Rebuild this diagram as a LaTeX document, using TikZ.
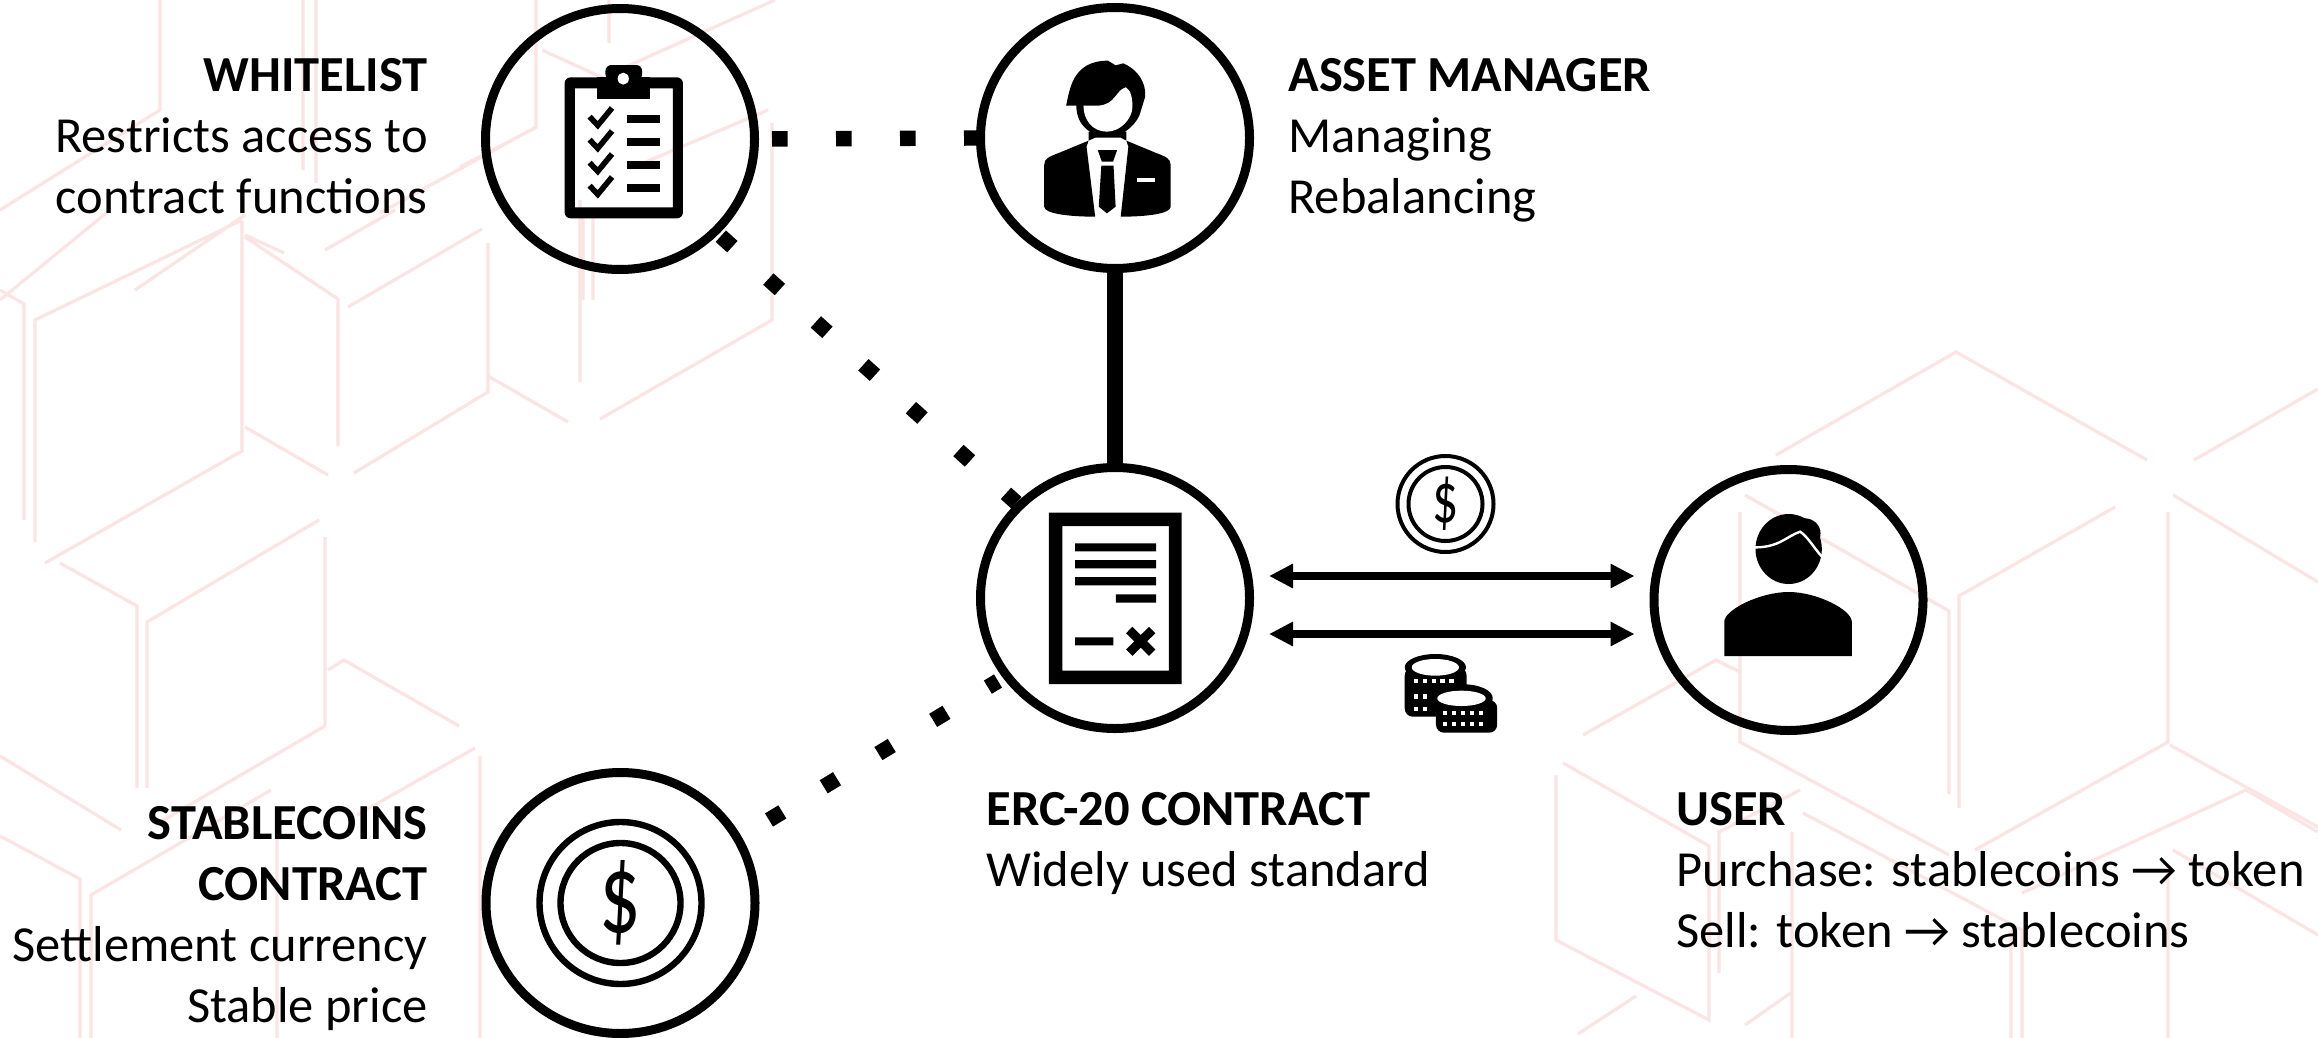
\documentclass[tikz,border=0pt]{standalone}
\usepackage{fontspec}
\setmainfont{Carlito}
\usetikzlibrary{shapes.geometric,arrows.meta,calc}
\definecolor{hexpink}{HTML}{FBE4E4}
\tikzset{
  hub/.style={ellipse,draw=black,line width=4.5pt,minimum width=134.5pt,minimum height=130.5pt,inner sep=0pt},
  dotlink/.style={line width=7.7pt,dash pattern=on 7.8pt off 24.2pt},
  solidlink/.style={line width=8pt},
  twoway/.style={line width=4pt,{Triangle[length=12pt,width=11.5pt]}-{Triangle[length=12pt,width=11.5pt]}},
  hexline/.style={hexpink,line width=1.6pt},
  lab/.style={inner sep=0pt,font=\fontsize{25.25}{30.5}\selectfont},
  labr/.style={lab,align=right,anchor=north east},
  labl/.style={lab,align=left,anchor=north west},
  viewA/.style={shift={(460,0)},x=0.2551pt,y=-0.16667pt},
  viewB/.style={shift={(950,440)},x=0.31888pt,y=-0.16667pt},
}
\begin{document}
\begin{tikzpicture}[x=0.5pt,y=-0.5pt]
\fill[white] (0,0) rectangle (2318,1038);
\useasboundingbox (0,0) rectangle (2318,1038);
\begin{scope}
\clip (0,0) rectangle (2318,1038);
% background hexagons, left
\draw[hexline]
 (35,542)--(35,320)--(242,220) (242,221)--(242,451)--(45,563)
 (245,235)--(284,253) (245,427)--(328,475) (354,473)--(488,392)--(488,243)
 (348,307)--(482,229) (338,446)--(338,299)--(245,237) (325,250)--(395,210)
 (488,376)--(568,422) (600,419)--(772,320)--(772,123) (580,200)--(580,382)
 (0,290)--(24,304)--(24,520) (60,563)--(137,606)--(137,788)
 (147,788)--(147,622)--(319,520) (325,537)--(325,726)--(155,825)
 (0,756)--(121,830) (328,670)--(344,660)--(459,726) (475,748)--(357,815)
 (480,756)--(480,1038) (0,836)--(80,879)--(80,1038) (91,1038)--(91,895)--(271,790)
 (277,815)--(277,1038)
 (160,0)--(160,110)--(0,210) (303,0)--(303,170) (316,0)--(316,183)
 (536,0)--(536,127)--(380,213) (537,127)--(460,167) (775,0)--(612,73)
 (609,0)--(609,43) (542,50)--(614,83) (768,110)--(634,167) (583,217)--(583,300) (593,217)--(593,300)
 (245,215)--(135,290) (0,300)--(110,210);
% background hexagons, right
\draw[hexline]
 (1776,455)--(1956,352)--(2147,460) (2194,460)--(2318,389)
 (1745,495)--(1949,611)--(1949,794) (1959,808)--(1959,596)--(2115,507)
 (2173,495)--(2318,582) (2168,512)--(2168,742)--(1975,850) (2170,745)--(2318,827)
 (1740,512)--(1740,742)--(1949,855) (1803,813)--(2022,930)--(2022,1038) (2011,930)--(2011,1038)
 (2173,850)--(2318,935) (2168,865)--(2168,1038) (1563,763)--(1709,846)--(1709,1020)--(1556,940)--(1556,775)
 (1583,735)--(1716,660)--(1740,672) (1719,973)--(1719,832)--(1800,790) (1792,832)--(1792,1038)
 (2022,893)--(2246,790)--(2318,832) (1578,1034)--(1636,996) (1745,1025)--(1792,992);
\end{scope}

% hubs
\node[hub] (wl) at (620,139) {};
\node[hub] (am) at (1115,138) {};
\node[hub] (ct) at (1115,598) {};
\node[hub] (us) at (1788.5,600) {};
\node[hub] (sc) at (620.5,903) {};

% connectors
\draw[dotlink,shorten <=6.5pt] (wl.east) -- (am.west);
\draw[dotlink,shorten <=1.5pt] (wl.-44) -- (ct.136);
\draw[dotlink] ($(sc.center)+(148.5,-83)$) -- ($(ct.center)+(-117,83)$);
\draw[solidlink] (am.south) -- (ct.north);
\draw[twoway] ($(ct.center)+(154,-22)$) -- ($(us.center)+(-154,-24)$);
\draw[twoway] ($(ct.center)+(154,36)$) -- ($(us.center)+(-154,34)$);

% clipboard
\begin{scope}[viewA]
 \fill[even odd rule,rounded corners=3pt] (205,232) rectangle (437,655) [sharp corners] (225,265) rectangle (417,622);
 \fill[rounded corners=3pt] (285,240) -- (285,195) -- (357,195) -- (357,240) -- cycle;
 \fill (268,232) rectangle (373,298);
 \fill[white] (320,236) ellipse [x radius=11,y radius=18];
 \foreach \d in {0,69,138,207}{
  \draw[line width=2.8pt] (254,\d+350) -- (270,\d+376) -- (298,\d+324);
  \fill (328,\d+345) rectangle (392,\d+369);
 }
 % manager
 \fill (1145,495) .. controls (1145,475) and (1155,470) .. (1175,458) -- (1232,422) -- (1228,440) -- (1245,650) .. controls (1190,650) and (1145,640) .. (1145,620) -- cycle;
 \fill (1393,495) .. controls (1393,475) and (1383,470) .. (1363,458) -- (1306,422) -- (1310,440) -- (1295,650) .. controls (1350,650) and (1393,640) .. (1393,620) -- cycle;
 \fill (1232,395) -- (1232,422) -- (1245,413) -- (1295,413) -- (1306,422) -- (1306,395) -- cycle;
 \fill (1250,450) -- (1288,450) -- (1280,485) -- (1258,485) -- cycle;
 \fill (1257,497) -- (1281,497) -- (1285,620) -- (1268,640) -- (1252,620) -- cycle;
 \fill[white] (1327,533) rectangle (1362,545);
 \fill (1188,317) .. controls (1195,270) and (1200,182) .. (1270,182) -- (1285,196) -- (1300,190) .. controls (1330,210) and (1345,250) .. (1343,290) -- (1332,345) .. controls (1320,385) and (1295,410) .. (1270,410) .. controls (1240,410) and (1208,380) .. (1208,317) -- cycle;
 \fill[white] (1222,317) -- (1250,317) .. controls (1285,315) and (1285,270) .. (1305,262) .. controls (1315,270) and (1318,295) .. (1318,320) .. controls (1318,355) and (1295,395) .. (1268,395) .. controls (1240,395) and (1222,360) .. (1222,317) -- cycle;
\end{scope}

% contract, coins, user
\begin{scope}[viewB]
 \fill[even odd rule] (155,218) rectangle (363,732) (176,258) rectangle (343,692);
 \fill (196,310) rectangle (323,334) (196,360) rectangle (323,385) (196,411) rectangle (323,436) (260,463) rectangle (323,488) (196,592) rectangle (256,616);
 \draw[line width=4.5pt] (281,570) -- (317,638) (317,570) -- (281,638);
 % coin stacks
 \fill[rounded corners=4pt] (713,682) -- (713,830) -- (810,830) -- (810,682) -- cycle;
 \fill (761,682) ellipse [x radius=48,y radius=40];
 \fill[white] (761,682) ellipse [x radius=37,y radius=25];
 \foreach \i in {0,1,2,3,4}{\fill[white] (727+\i*14,718) rectangle ++(7,12);}
 \foreach \i in {0,1}{\fill[white] (727+\i*14,763) rectangle ++(7,14); \fill[white] (727+\i*14,800) rectangle ++(7,12);}
 \fill[rounded corners=4pt] (762,780) -- (762,878) -- (858,878) -- (858,780) -- cycle;
 \fill (806,775) ellipse [x radius=45,y radius=42];
 \fill[white] (802,775) ellipse [x radius=38,y radius=23];
 \foreach \i in {0,1,2,3,4}{\fill[white] (773+\i*14,812) rectangle ++(7,12); \fill[white] (773+\i*14,846) rectangle ++(7,12);}
 % user
 \fill (1315,327) ellipse [x radius=52,y radius=105];
 \fill (1340,280) ellipse [x radius=25,y radius=45];
 \draw[white,line width=1.2pt] (1256,322) .. controls (1300,325) and (1310,290) .. (1333,275) .. controls (1345,290) and (1355,325) .. (1368,352);
 \fill (1214,648) -- (1414,648) -- (1414,545) .. controls (1414,510) and (1360,456) .. (1315,456) .. controls (1270,456) and (1214,510) .. (1214,545) -- cycle;
\end{scope}

% coins
\draw[line width=2pt] (1445.5,504) circle [x radius=48,y radius=48] circle [x radius=37,y radius=37];
\node[inner sep=0pt,font=\fontsize{36}{36}\selectfont] (smalldollar) at (1445.5,504) {\scalebox{0.72}[1]{\$}};
\draw[line width=3.2pt] (620.5,903) circle [x radius=81,y radius=81] circle [x radius=60,y radius=60];
\node[inner sep=0pt,font=\fontsize{57}{57}\selectfont] (bigdollar) at (620.5,903) {\scalebox{0.72}[1]{\$}};

% labels
\node[labr] (t1) at (428,58) {\textbf{WHITELIST}\\Restricts access to\\contract functions};
\node[labl] (t2) at (1288,58) {\textbf{ASSET MANAGER}\\Managing\\Rebalancing};
\node[labl] (t3) at (986,792) {\textbf{ERC-20 CONTRACT}\\Widely used standard};
\node[labl] (t4) at (1676,792) {\textbf{USER}\\Purchase: stablecoins → token\\Sell: token → stablecoins};
\node[labr] (t5) at (428,806) {\textbf{STABLECOINS}\\\textbf{CONTRACT}\\Settlement currency\\Stable price};
\end{tikzpicture}
\end{document}
